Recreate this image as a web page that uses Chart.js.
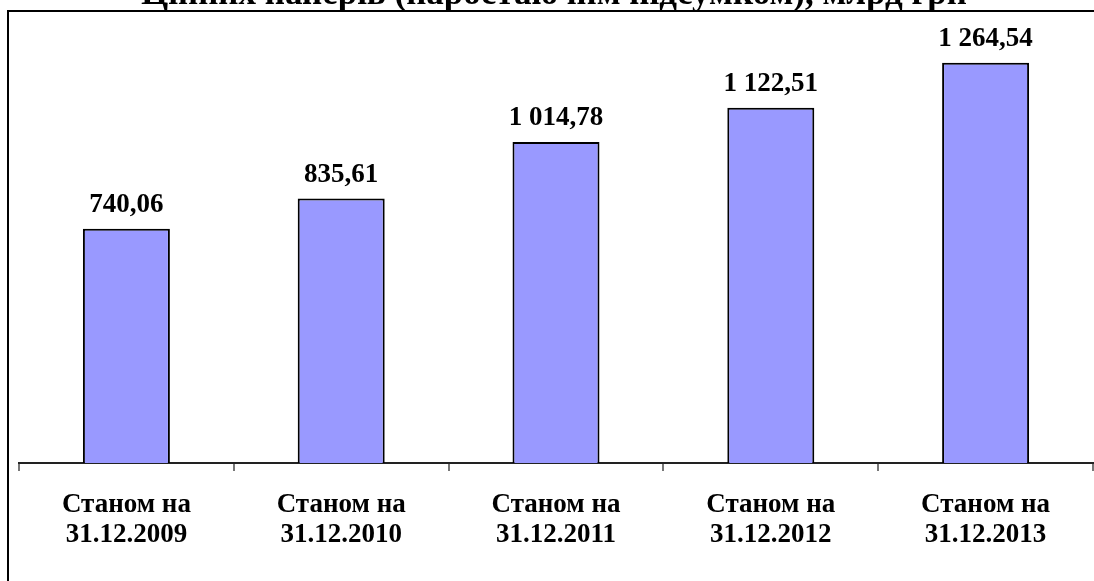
<!DOCTYPE html>
<html>
<head>
<meta charset="utf-8">
<script src="https://cdn.jsdelivr.net/npm/chart.js@4/dist/chart.umd.min.js"></script>
<style>
  html, body { margin: 0; padding: 0; background: #fff; }
  #wrap { position: relative; width: 1094px; height: 581px; overflow: hidden; }
  canvas { display: block; }
</style>
</head>
<body>
<div id="wrap"><canvas id="chart" width="1094" height="581"></canvas></div>
<script>
// Chart content
const chartTitle = 'Цінних паперів (наростаючим підсумком), млрд грн';
const categories = [
  ['Станом на', '31.12.2009'],
  ['Станом на', '31.12.2010'],
  ['Станом на', '31.12.2011'],
  ['Станом на', '31.12.2012'],
  ['Станом на', '31.12.2013']
];
const values = [740.06, 835.61, 1014.78, 1122.51, 1264.54];
const yMax = 1400;

const SERIF = '"Liberation Serif", "Times New Roman", serif';

// Ukrainian number style: space as thousands separator, comma as decimal mark
function formatValue(v) {
  const parts = v.toFixed(2).split('.');
  const intPart = parts[0].replace(/\B(?=(\d{3})+(?!\d))/g, ' ');
  return intPart + ',' + parts[1];
}

// Outer frame and heading line
const framePlugin = {
  id: 'frame',
  beforeDraw(chart) {
    const ctx = chart.ctx;
    ctx.save();
    ctx.fillStyle = '#fff';
    ctx.fillRect(0, 0, chart.width, chart.height);
    ctx.strokeStyle = '#000';
    ctx.lineWidth = 2;
    ctx.beginPath();
    ctx.moveTo(8, chart.height + 10);
    ctx.lineTo(8, 11);
    ctx.lineTo(chart.width + 10, 11);
    ctx.stroke();
    ctx.fillStyle = '#000';
    ctx.font = 'bold 35px ' + SERIF;
    ctx.textAlign = 'center';
    ctx.textBaseline = 'alphabetic';
    ctx.fillText(chartTitle, 554, 4);
    ctx.restore();
  }
};

// Value captions above each bar
const valueLabels = {
  id: 'valueLabels',
  afterDatasetsDraw(chart) {
    const ctx = chart.ctx;
    const meta = chart.getDatasetMeta(0);
    ctx.save();
    ctx.fillStyle = '#000';
    ctx.font = 'bold 27px ' + SERIF;
    ctx.textAlign = 'center';
    ctx.textBaseline = 'alphabetic';
    meta.data.forEach((bar, i) => {
      ctx.fillText(formatValue(values[i]), bar.x, bar.y - 17);
    });
    ctx.restore();
  }
};

new Chart(document.getElementById('chart'), {
  type: 'bar',
  data: {
    labels: categories,
    datasets: [{
      data: values,
      backgroundColor: '#9999FF',
      borderColor: '#000',
      borderWidth: 2,
      borderSkipped: 'bottom',
      barPercentage: 0.405,
      categoryPercentage: 1.0
    }]
  },
  options: {
    responsive: false,
    animation: false,
    devicePixelRatio: 1,
    layout: { padding: { left: 19, right: 1, top: 20, bottom: 0 } },
    plugins: {
      legend: { display: false },
      title: { display: false },
      tooltip: { enabled: false }
    },
    scales: {
      x: {
        offset: true,
        afterFit(scale) { scale.height = 118; },
        border: { display: true, color: '#222', width: 2 },
        grid: {
          offset: true,
          drawOnChartArea: false,
          drawTicks: true,
          tickLength: 8,
          color: '#777',
          lineWidth: 2
        },
        ticks: {
          color: '#000',
          padding: 19,
          maxRotation: 0,
          autoSkip: false,
          font: { family: SERIF, size: 27, weight: 'bold', lineHeight: 1.11 }
        }
      },
      y: {
        display: false,
        min: 0,
        max: yMax
      }
    }
  },
  plugins: [framePlugin, valueLabels]
});
</script>
</body>
</html>
